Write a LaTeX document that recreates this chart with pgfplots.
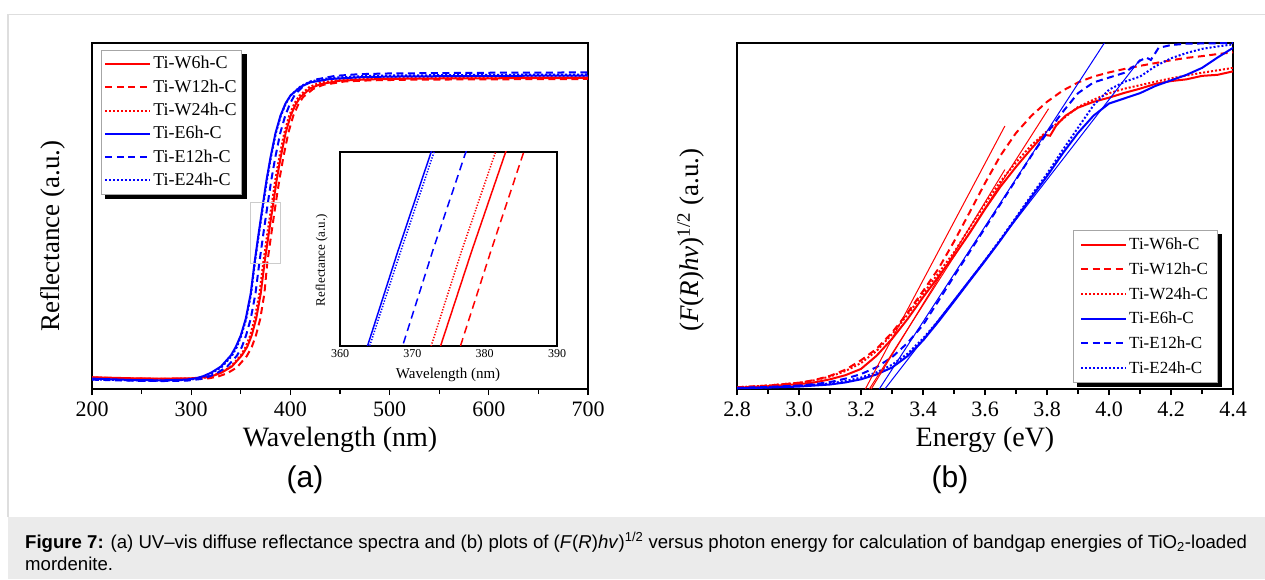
\documentclass[border=0pt]{standalone}
\usepackage{fontspec}
\setmainfont{Liberation Serif}
\newfontfamily\capfont{Liberation Sans}
\usepackage{pgfplots}
\usepackage{pgfplotstable}
\pgfplotsset{compat=1.18}
\usetikzlibrary{backgrounds}

\definecolor{capbg}{HTML}{EBEBEB}
\definecolor{framegray}{HTML}{DEDEDE}

% ---------- (a) reflectance spectra ----------
\pgfplotstableread{
x y
200 3.4
240 3.1
270 3.0
300 3.1
315 3.4
323 3.9
331 4.8
341 6.5
351 9.7
356.5 12.2
361 15.5
365.5 20.3
370.1 27.6
373.9 36.4
378.2 45.0
382.9 54.0
386.2 60.5
390.2 67.0
395.2 74.0
400.2 79.0
405.2 82.2
410.2 84.4
420.2 86.9
430.2 88.1
450 89.1
480 89.5
520 89.7
600 89.8
700 89.9
}\WsixA
\pgfplotstableread{
x y
200 3.3
240 3.0
270 2.9
300 2.9
318 3.1
327 3.6
336 4.5
346 6.2
356 9.5
361 12.1
365.3 15.5
369.6 20.3
373.8 27.6
376.65 36.4
380.85 45.0
385.4 54.0
388.9 60.5
392.9 67.0
397.9 74.0
402.9 79.0
407.9 82.2
412.9 84.4
422.9 86.7
432.9 87.9
455 88.9
480 89.2
520 89.4
600 89.5
700 89.6
}\WtwelveA
\pgfplotstableread{
x y
200 3.3
240 3.0
270 2.9
300 3.0
314 3.3
322 3.9
330 4.8
340 6.5
350 9.7
355 12.2
359.5 15.5
364 20.3
368.8 27.6
372.6 36.4
376.8 45.0
381.5 54.0
384.8 60.5
388.8 67.0
393.8 74.0
398.8 79.0
403.8 82.4
408.8 84.7
418.8 87.2
428.8 88.5
450 89.4
480 89.9
520 90.1
600 90.2
700 90.3
}\WtwfourA
\pgfplotstableread{
x y
200 3.0
240 2.6
270 2.5
295 2.7
305 3.1
312 3.7
320 4.7
330 6.5
340 9.7
345 12.2
350 15.5
355 20.3
360 27.6
363.8 36.4
368 45.0
372.6 54.0
376 60.5
380 67.0
385 74.0
390 79.0
395 82.5
400 84.8
410 87.3
420 88.6
440 89.6
470 90.1
500 90.3
600 90.5
700 90.6
}\EsixA
\pgfplotstableread{
x y
200 2.7
240 2.4
270 2.3
295 2.4
310 2.9
318 3.6
326 4.6
336 6.4
346 9.6
351 12.1
355.3 15.5
360 20.3
364.8 27.6
368.65 36.4
372.8 45.0
377.4 54.0
380.8 60.5
384.8 67.0
389.8 74.0
394.8 79.0
399.8 82.6
404.8 85.2
414.8 88.0
424.8 89.4
445 90.5
470 91.0
500 91.2
600 91.4
700 91.5
}\EtwelveA
\pgfplotstableread{
x y
200 2.8
240 2.5
270 2.4
295 2.6
306 3.0
313 3.6
321 4.6
331 6.4
341 9.6
346 12.1
350.6 15.5
355.5 20.3
360.4 27.6
364.1 36.4
368.4 45.0
373.0 54.0
376.4 60.5
380.4 67.0
385.4 74.0
390.4 79.0
395.4 82.5
400.4 84.9
410.4 87.5
420.4 88.9
440 89.9
470 90.4
500 90.6
600 90.8
700 90.9
}\EtwfourA

% ---------- (b) (F(R)hv)^1/2 vs energy ----------
\pgfplotstableread{
x y
2.80 0.4
2.90 0.8
3.00 1.4
3.05 1.9
3.10 2.8
3.15 4.0
3.20 5.8
3.25 9.6
3.30 14.5
3.35 20.2
3.40 26.5
3.45 32.5
3.50 38.5
3.55 45.0
3.60 52.0
3.65 58.5
3.70 64.2
3.75 69.5
3.79 73.5
3.81 73.2
3.83 76.2
3.86 79.0
3.90 81.3
3.95 83.0
4.00 84.2
4.05 85.6
4.10 86.8
4.15 88.2
4.20 89.0
4.25 89.5
4.30 90.5
4.35 90.8
4.40 91.8
}\WsixB
\pgfplotstableread{
x y
2.80 0.5
2.90 1.0
3.00 1.8
3.05 2.6
3.10 3.8
3.15 5.6
3.20 8.3
3.25 11.6
3.30 16.3
3.35 22.0
3.40 28.3
3.45 34.8
3.50 42.6
3.55 51.0
3.60 59.5
3.65 67.5
3.70 74.0
3.75 79.0
3.80 83.0
3.85 86.2
3.90 88.6
3.95 90.3
4.00 91.5
4.05 92.5
4.10 93.4
4.15 94.2
4.20 95.0
4.25 95.7
4.30 96.2
4.35 96.8
4.40 97.3
}\WtwelveB
\pgfplotstableread{
x y
2.80 0.5
2.90 1.0
3.00 1.8
3.05 2.5
3.10 3.6
3.15 5.2
3.20 7.5
3.25 11.0
3.30 15.8
3.35 21.5
3.40 27.5
3.45 33.5
3.50 39.5
3.55 46.5
3.60 53.5
3.65 60.0
3.70 65.5
3.75 70.5
3.80 74.5
3.85 78.0
3.90 81.5
3.95 83.6
4.00 85.5
4.05 86.8
4.10 87.8
4.15 88.8
4.20 89.8
4.25 90.6
4.30 91.4
4.35 92.1
4.40 92.8
}\WtwfourB
\pgfplotstableread{
x y
2.80 0.2
2.90 0.4
3.00 0.7
3.10 1.3
3.15 1.9
3.20 2.8
3.25 4.2
3.30 6.2
3.35 9.5
3.40 14.0
3.45 19.5
3.50 25.3
3.55 31.2
3.60 37.0
3.65 43.0
3.70 49.3
3.75 55.5
3.80 61.5
3.85 68.0
3.90 74.0
3.95 79.0
4.00 82.5
4.05 84.0
4.10 85.5
4.15 87.6
4.20 89.2
4.25 90.8
4.30 92.8
4.35 95.8
4.40 98.6
}\EsixB
\pgfplotstableread{
x y
2.80 0.3
2.90 0.6
3.00 1.0
3.05 1.4
3.10 2.0
3.15 3.0
3.20 4.3
3.25 6.3
3.30 9.2
3.35 13.3
3.40 18.5
3.45 25.5
3.50 32.6
3.55 39.6
3.60 46.5
3.65 53.5
3.70 60.5
3.75 67.5
3.80 74.0
3.85 80.0
3.90 85.5
3.95 88.6
4.00 90.0
4.05 91.4
4.08 93.3
4.10 94.9
4.12 95.8
4.135 95.1
4.16 98.6
4.20 99.4
4.25 99.8
4.40 100
}\EtwelveB
\pgfplotstableread{
x y
2.80 0.3
2.90 0.5
3.00 0.9
3.10 1.6
3.15 2.3
3.20 3.3
3.25 4.8
3.30 7.0
3.35 10.2
3.40 14.6
3.45 19.8
3.50 25.5
3.55 31.3
3.60 37.2
3.65 43.3
3.70 49.6
3.75 56.0
3.80 62.2
3.85 69.0
3.90 75.5
3.95 82.0
4.00 86.5
4.05 88.8
4.10 90.3
4.15 93.3
4.20 95.6
4.25 97.1
4.30 98.3
4.35 99.0
4.40 99.6
}\EtwfourB

\pgfplotsset{
  panel/.style={
    anchor=south west, width=496pt, height=346pt, scale only axis,
    ymin=0, ymax=100, ytick=\empty,
    xtick pos=left, tick align=outside, minor x tick num=1,
    major tick length=6pt, minor tick length=5pt,
    tick style={black, line width=1.3pt},
    axis line style={line width=2.2pt},
    /pgf/number format/assume math mode=true,
    tick label style={font=\fontsize{22}{22}\selectfont},
    xticklabel style={yshift=-3pt},
    xlabel style={font=\fontsize{28}{28}\selectfont, anchor=center},
    ylabel style={font=\fontsize{27}{27}\selectfont, anchor=center},
    legend cell align=left,
    legend image code/.code={\draw[##1] (0pt,0pt) -- (45pt,0pt);},
  },
  boxlegend/.style={
    draw=gray!70, line width=0.8pt, fill=white,
    inner ysep=2pt, row sep=0pt,
  },
}

\begin{document}
\begin{tikzpicture}[x=1pt,y=1pt]
\useasboundingbox (0,0) rectangle (1265,579);
\fill[capbg] (8,0) rectangle (1265,62);
\draw[framegray, line width=1.6pt] (8,62) -- (8,564.5) -- (1265,564.5);

% panel (a)
\begin{axis}[panel,
  at={(92pt,190pt)},
  xmin=200, xmax=700, xtick={200,300,...,700},
  xlabel={Wavelength (nm)},
  xlabel style={at={(axis description cs:0.5,-0.147)}},
  ylabel={Reflectance (a.u.)},
  ylabel style={at={(axis description cs:-0.079,0.442)}},
  legend style={boxlegend, name=legA, at={(0.018,0.98)}, anchor=north west,
    inner xsep=3pt, font=\fontsize{18}{18}\selectfont,
    nodes={inner ysep=2.5pt, text height=14pt, text depth=4.3pt}},
]
\addplot[red, line width=2pt] table {\WsixA};
\addlegendentry{Ti-W6h-C}
\addplot[red, line width=2pt, dash pattern=on 7pt off 4.5pt] table {\WtwelveA};
\addlegendentry{Ti-W12h-C}
\addplot[red, line width=2pt, dash pattern=on 2pt off 2pt] table {\WtwfourA};
\addlegendentry{Ti-W24h-C}
\addplot[blue, line width=2pt] table {\EsixA};
\addlegendentry{Ti-E6h-C}
\addplot[blue, line width=2pt, dash pattern=on 7pt off 4.5pt] table {\EtwelveA};
\addlegendentry{Ti-E12h-C}
\addplot[blue, line width=2pt, dash pattern=on 2pt off 2pt] table {\EtwfourA};
\addlegendentry{Ti-E24h-C}
\draw[gray!40, line width=0.8pt] (axis cs:360,36.4) rectangle (axis cs:390,54);
\end{axis}

% inset of (a)
\begin{axis}[
  at={(340pt,233pt)}, anchor=south west,
  width=217pt, height=194pt, scale only axis,
  xmin=360, xmax=390, ymin=36.4, ymax=54,
  xtick={360,370,380,390}, ytick=\empty,
  major tick length=0pt,
  axis line style={line width=1.3pt},
  axis background/.style={fill=white},
  /pgf/number format/assume math mode=true,
  tick label style={font=\fontsize{12}{12}\selectfont},
  xlabel={Wavelength (nm)},
  xlabel style={font=\fontsize{15}{15}\selectfont, at={(axis description cs:0.498,-0.149)}, anchor=center},
  ylabel={Reflectance (a.u.)},
  ylabel style={font=\fontsize{13}{13}\selectfont, at={(axis description cs:-0.084,0.443)}, anchor=center},
]
\addplot[red, line width=1.5pt] table {\WsixA};
\addplot[red, line width=1.5pt, dash pattern=on 8pt off 5pt] table {\WtwelveA};
\addplot[red, line width=1.5pt, dash pattern=on 1.3pt off 1.6pt] table {\WtwfourA};
\addplot[blue, line width=1.5pt] table {\EsixA};
\addplot[blue, line width=1.5pt, dash pattern=on 8pt off 5pt] table {\EtwelveA};
\addplot[blue, line width=1.5pt, dash pattern=on 1.3pt off 1.6pt] table {\EtwfourA};
\end{axis}

% panel (b)
\begin{axis}[panel,
  at={(737pt,190pt)},
  xmin=2.8, xmax=4.4, xtick={2.8,3,3.2,3.4,3.6,3.8,4,4.2,4.4},
  xticklabel style={/pgf/number format/.cd, fixed, fixed zerofill, precision=1},
  xlabel={Energy (eV)},
  xlabel style={at={(axis description cs:0.5,-0.147)}},
  ylabel={(\textit{F}(\textit{R})\textit{hν})\textsuperscript{1/2} (a.u.)},
  ylabel style={at={(axis description cs:-0.093,0.43)}},
  legend style={boxlegend, name=legB, at={(0.677,0.46)}, anchor=north west,
    inner xsep=7pt, font=\fontsize{17}{17}\selectfont,
    nodes={inner ysep=2.5pt, text height=15pt, text depth=4.7pt}},
]
\addplot[red, line width=2pt] table {\WsixB};
\addlegendentry{Ti-W6h-C}
\addplot[red, line width=2pt, dash pattern=on 7pt off 4.5pt] table {\WtwelveB};
\addlegendentry{Ti-W12h-C}
\addplot[red, line width=2pt, dash pattern=on 2pt off 2pt] table {\WtwfourB};
\addlegendentry{Ti-W24h-C}
\addplot[blue, line width=2pt] table {\EsixB};
\addlegendentry{Ti-E6h-C}
\addplot[blue, line width=2pt, dash pattern=on 7pt off 4.5pt] table {\EtwelveB};
\addlegendentry{Ti-E12h-C}
\addplot[blue, line width=2pt, dash pattern=on 2pt off 2pt] table {\EtwfourB};
\addlegendentry{Ti-E24h-C}
% linear fits used for the band-gap extrapolation
\addplot[red, line width=1pt, forget plot] coordinates {(3.214,0) (3.664,76)};
\addplot[red, line width=1pt, forget plot] coordinates {(3.227,0) (3.805,81)};
\addplot[red, line width=1pt, forget plot] coordinates {(3.233,0) (3.664,63.4)};
\addplot[blue, line width=1pt, forget plot] coordinates {(3.259,0) (3.985,100)};
\addplot[blue, line width=1pt, forget plot] coordinates {(3.277,0) (4.10,95.2)};
\end{axis}

% black shadows behind the two legend boxes
\begin{scope}[on background layer]
\fill[black] ([shift={(4.5pt,-4.5pt)}]legA.south west) rectangle ([shift={(4.5pt,-4.5pt)}]legA.north east);
\fill[black] ([shift={(4.5pt,-4.5pt)}]legB.south west) rectangle ([shift={(4.5pt,-4.5pt)}]legB.north east);
\end{scope}

\node[font=\capfont\fontsize{30}{30}\selectfont] at (305,99) {(a)};
\node[font=\capfont\fontsize{30}{30}\selectfont] at (950,99) {(b)};

\node[anchor=base west, inner sep=0pt, font=\capfont\fontsize{18.6}{20}\selectfont] at (25,31)
  {\textbf{Figure 7:} (a) UV–vis diffuse reflectance spectra and (b) plots of (\textit{F}(\textit{R})\textit{hv})\textsuperscript{1/2} versus photon energy for calculation of bandgap energies of TiO\textsubscript{2}-loaded};
\node[anchor=base west, inner sep=0pt, font=\capfont\fontsize{18.6}{20}\selectfont] at (25,8.5) {mordenite.};
\end{tikzpicture}
\end{document}
